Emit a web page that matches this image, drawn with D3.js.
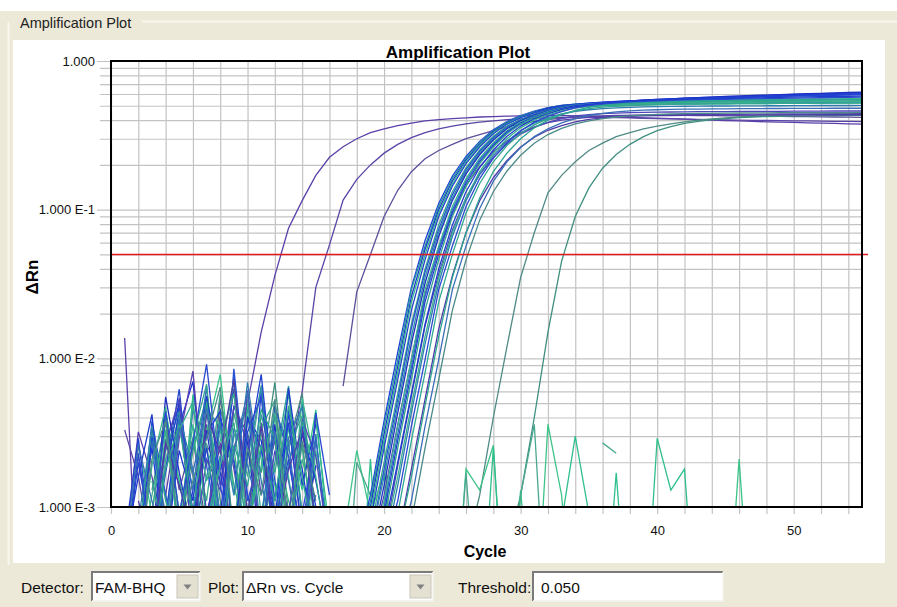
<!DOCTYPE html>
<html>
<head>
<meta charset="utf-8">
<script src="https://cdn.jsdelivr.net/npm/d3@7"></script>
<style>
  body { margin: 0; background: #ece9d8; }
  svg { display: block; }
</style>
</head>
<body>
<svg id="chart" width="897" height="607"></svg>
<script>

// ---- data ----
var cycles = [1,2,3,4,5,6,7,8,9,10,11,12,13,14,15,16,17,18,19,20,21,22,23,24,25,26,27,28,29,30,
              31,32,33,34,35,36,37,38,39,40,41,42,43,44,45,46,47,48,49,50,51,52,53,54,55];
var xTickLabels = [0, 10, 20, 30, 40, 50];
var yTickValues = [1, 0.1, 0.01, 0.001];
var yTickLabels = ["1.000", "1.000 E-1", "1.000 E-2", "1.000 E-3"];
var threshold = 0.050;
var detectorName = "FAM-BHQ";
var plotName = "\u0394Rn vs. Cycle";

// one colour per well (early wells A-E, three no-template wells, then the main group)
var wellColors = [
  "#5b3fa8","#5a44a6","#5c4f9c","#4f8a86","#3f8f80","#3cc488","#2fbf8a","#4aa890",
  "#1f3fd8","#2a9d9a","#1a36d0","#35b88c","#2244cc","#3aa88a","#2550d8","#2f8fa6",
  "#1c2fc0","#5a3fb0","#3ab890","#2e6fc0","#2040d0","#34a58c","#4d46b8","#1e3ccc",
  "#3bb08c","#2d7db0","#2a48d0","#33a890","#4f3aa8","#2ca490","#3a6fb8","#4a8a88"
];

// delta Rn, cycles 1-16 (baseline noise); 0 = not plotted
var baselineNoise = [
  [.0137,.0002,.0031,.0012,.0045,.0008,.0026,.0018,0,0,0,0,0,0,0,0],
  [.0033,.0016,.0005,.0028,.0048,.0009,.0036,.0014,.0062,.0007,.0025,.0009,0,0,0,0],
  [0,.0022,.0006,.0041,.0013,.0029,.0007,.0053,.0018,.0005,.0037,.0011,.0044,.0006,.0019,0],
  [0,.0004,.0027,.0009,.0035,.0016,.0004,.0046,.0021,.0008,.0033,.0005,.0026,.0058,.0007,0],
  [0,0,.0013,.0038,.0006,.0024,.0051,.0011,.0004,.0031,.0017,.0069,.0009,.0027,.0005,0],
  [.0004,.0026,.0009,.0044,.0015,.0005,.0032,.0078,.0012,.0029,.0006,.0041,.0016,.0004,.0024,.0006],
  [0,.0005,.0031,.0012,.0005,.0057,.0019,.0035,.0006,.0048,.0021,.0007,.0034,.0013,.0045,.0005],
  [0,0,.0004,.0021,.0039,.0008,.0027,.0005,.0043,.0016,.0066,.0009,.0025,.0041,.0008,0],
  [0,.0005,.003,.0008,.005,.0012,.0006,.004,.002,.0005,.006,.0015,.0005,.0035,.001,0],
  [0,0,.0006,.004,.0009,.0025,.0055,.0007,.003,.0045,.0006,.002,.0065,.0008,.0005,0],
  [0,.0007,.0025,.0005,.0035,.007,.0009,.0022,.0005,.004,.0028,.0006,.0042,.0018,.0005,0],
  [0,0,.0005,.0032,.0015,.0006,.0045,.0035,.0007,.0052,.0009,.003,.0011,.0006,.0038,.0007],
  [.0004,.002,.0006,.0018,.0062,.0008,.0025,.0006,.0075,.0012,.0005,.0048,.0022,.0006,.0012,0],
  [0,0,.0009,.0042,.0006,.0028,.0011,.0058,.0014,.0006,.0034,.0052,.0007,.0026,.0005,0],
  [0,.0005,.0038,.0012,.0005,.0046,.0019,.0006,.0085,.0011,.0024,.0007,.0045,.0009,.0029,.0005],
  [0,0,.0005,.0024,.0044,.0007,.0016,.0038,.0006,.0021,.0064,.0009,.0019,.005,.0006,0],
  [0,.0009,.0005,.0055,.0017,.0006,.0033,.0009,.0048,.0027,.0005,.0036,.0006,.0031,.0015,.0005],
  [.0005,.0032,.0016,.0005,.0029,.0082,.0008,.0027,.0005,.0061,.0012,.0028,.0008,.0006,.0041,0],
  [0,.0004,.0019,.0047,.0008,.0036,.0005,.0022,.0071,.0009,.0033,.0014,.0005,.0054,.0018,0],
  [0,0,.0028,.0007,.0039,.0013,.0065,.0005,.0034,.0019,.0008,.0044,.0027,.0005,.0031,.0004],
  [.0006,.0029,.0005,.0017,.0052,.0009,.0031,.0044,.0006,.0023,.0078,.0011,.0037,.0007,.0019,0],
  [0,.0006,.0035,.0011,.0006,.0029,.0067,.0008,.0025,.0005,.0042,.0017,.0058,.0009,.0005,0],
  [0,0,.0007,.0026,.0054,.0005,.0021,.0013,.0047,.0031,.0006,.0024,.0009,.0039,.0022,.0005],
  [.0005,.0016,.0042,.0005,.0024,.0011,.0056,.0017,.0006,.0039,.0025,.0008,.0063,.0014,.0036,0],
  [0,.0004,.0012,.0033,.0006,.0049,.0015,.0028,.0058,.0007,.0019,.0043,.0006,.0021,.0009,0],
  [0,.0008,.0034,.0007,.0041,.0018,.0005,.0036,.0012,.0069,.0015,.0005,.0029,.0047,.0007,0],
  [.0004,.0023,.0005,.0044,.0009,.0027,.0091,.0014,.0005,.0032,.0055,.0008,.0021,.0006,.0043,.0012],
  [0,0,.0015,.0006,.0033,.0051,.0008,.0019,.0037,.0006,.0026,.0011,.0048,.0016,.0005,0],
  [0,.0011,.0005,.0027,.0014,.0006,.0042,.0023,.0072,.0009,.0035,.0006,.0018,.0033,.0008,0],
  [0,0,.0005,.0018,.0036,.0009,.0051,.0005,.0026,.0014,.0045,.0029,.0005,.0038,.0016,.0004],
  [.0005,.0026,.0011,.0005,.0034,.0017,.0046,.0008,.0023,.0059,.0006,.0032,.0015,.0005,.0027,0],
  [0,.0004,.0021,.0038,.0007,.0015,.0029,.0064,.0006,.0025,.0012,.0053,.0007,.0028,.0011,0]
];

// first cycle of the amplification part of each well
var ampStart = [9,13,17,26,29,17,17,17,
                18,18,18,18,19,19,19,19,19,19,19,19,19,20,20,20,20,20,20,20,21,21,21,22];

// delta Rn from ampStart up to cycle 55
var ampValues = [
  [.0025,.005,.015,.036,.075,.115,.17,.225,.265,.3,.33,.35,.368,.382,.395,.403,.41,.415,.42,.423,.426,.428,.43,.43,.43,.428,.426,.424,.421,.418,.415,.412,.409,.406,.403,.4,.398,.395,.392,.39,.388,.386,.384,.382,.38,.378,.376],
  [.0018,.006,.03,.058,.116,.16,.2,.24,.275,.305,.33,.35,.365,.378,.388,.396,.403,.408,.412,.415,.417,.418,.418,.417,.416,.414,.412,.41,.408,.406,.404,.403,.402,.4,.399,.398,.397,.396,.395,.394,.393,.392,.391],
  [.0065,.028,.05,.09,.135,.18,.22,.25,.275,.3,.32,.34,.36,.378,.392,.404,.413,.42,.425,.428,.43,.431,.432,.432,.432,.431,.43,.429,.428,.427,.426,.425,.424,.423,.422,.421,.42,.419,.418],
  [.0005,.0012,.004,.012,.035,.07,.13,.17,.21,.25,.28,.31,.33,.35,.365,.378,.39,.4,.408,.415,.42,.425,.428,.431,.434,.436,.438,.44,.441,.442],
  [.0005,.0012,.004,.015,.045,.09,.14,.19,.235,.275,.31,.34,.362,.38,.393,.403,.41,.416,.42,.423,.425,.427,.428,.429,.43,.43,.431],
  [.0006,.0024,.0009,.0017,.0001,0,0,0,.0001,.0018,.0013,.0026,.0001,.0013,.0001,.0036,.0012,.0001,0,0,0,0,0,0,0,0,0,0,.0001,.0021,.0001],
  [0,.0001,.0021,.0001,0,0,0,0,0,0,.0001,.0025,.0001,0,0,.0001,.0008,.003,.0009,.0001,.0017,.0001,.0001,.0029,.0013,.0018,.0001],
  [.0001,.002,.0012,.0028,.0001,0,0,0,.0001,.0017,.0001,0,.0001,.0012,.0036,.0001,0,0,0,.0027,.0023],
  [.0005,.0012,.0038,.011,.03,.062,.11,.168,.228,.288,.345,.392,.43,.46,.486,.503,.513,.52,.528,.534,.538,.545,.548,.553,.556,.56,.566,.568,.572,.577,.58,.583,.587,.59,.592,.596,.598,.602],
  [.0005,.0011,.0035,.0098,.029,.057,.105,.162,.222,.282,.34,.388,.426,.456,.484,.502,.512,.515,.52,.522,.526,.528,.53,.532,.535,.536,.538,.54,.541,.543,.544,.546,.547,.548,.549,.55,.551,.552],
  [.0004,.001,.0031,.0088,.026,.054,.1,.156,.216,.276,.335,.384,.423,.453,.482,.5,.511,.52,.526,.533,.54,.546,.551,.556,.562,.566,.571,.576,.58,.584,.588,.592,.595,.599,.602,.605,.608,.612],
  [.0003,.0009,.0028,.008,.024,.05,.095,.15,.21,.27,.33,.38,.42,.45,.47,.485,.495,.5,.505,.508,.51,.512,.515,.516,.518,.52,.521,.522,.523,.525,.526,.527,.528,.529,.53,.531,.532,.533],
  [.0008,.0025,.0072,.021,.046,.09,.144,.204,.264,.324,.375,.416,.447,.477,.498,.509,.517,.524,.53,.536,.54,.545,.549,.553,.557,.561,.565,.568,.572,.575,.578,.58,.583,.585,.588,.59,.592],
  [.0007,.002,.0058,.017,.04,.079,.132,.192,.252,.312,.365,.405,.435,.46,.478,.49,.497,.5,.503,.506,.508,.51,.511,.512,.513,.514,.515,.516,.516,.517,.518,.518,.519,.52,.52,.521,.522],
  [.0006,.0018,.0053,.016,.038,.074,.126,.186,.246,.306,.36,.404,.438,.468,.492,.506,.515,.522,.53,.536,.542,.547,.552,.556,.561,.565,.569,.573,.577,.58,.584,.587,.59,.593,.596,.599,.601],
  [.0006,.0016,.0048,.014,.035,.07,.12,.18,.24,.3,.355,.4,.435,.465,.49,.505,.513,.518,.522,.526,.529,.532,.534,.536,.538,.54,.541,.542,.543,.544,.545,.546,.547,.548,.549,.55,.551],
  [.0005,.0014,.0043,.0125,.032,.066,.115,.174,.234,.294,.35,.396,.432,.462,.488,.504,.514,.523,.531,.538,.545,.551,.556,.562,.567,.572,.577,.581,.586,.59,.594,.598,.602,.606,.61,.614,.618],
  [.0005,.0012,.0036,.0098,.027,.054,.095,.145,.195,.245,.29,.33,.36,.385,.4,.41,.418,.424,.428,.43,.432,.434,.435,.436,.437,.437,.438,.438,.439,.439,.44,.44,.44,.441,.441,.441,.442],
  [.0005,.0011,.0035,.0098,.029,.057,.105,.162,.222,.282,.34,.388,.426,.456,.484,.502,.512,.518,.523,.527,.53,.533,.536,.539,.541,.543,.545,.547,.549,.55,.552,.553,.555,.556,.557,.558,.56],
  [.0004,.001,.0031,.0088,.026,.054,.1,.156,.216,.276,.335,.384,.423,.453,.478,.494,.503,.508,.512,.515,.517,.519,.52,.521,.522,.523,.524,.525,.526,.527,.528,.528,.529,.53,.53,.531,.532],
  [.0003,.0009,.0028,.008,.024,.05,.095,.15,.21,.27,.33,.38,.42,.45,.48,.5,.51,.52,.528,.535,.541,.547,.552,.557,.561,.565,.569,.573,.577,.58,.584,.587,.59,.593,.596,.598,.601],
  [.0008,.0025,.0072,.021,.046,.09,.144,.204,.264,.324,.375,.416,.447,.472,.49,.5,.507,.512,.516,.519,.522,.524,.526,.528,.53,.531,.532,.534,.535,.536,.537,.538,.539,.539,.54,.541],
  [.0006,.0019,.0056,.0165,.037,.073,.12,.172,.224,.277,.322,.358,.386,.41,.427,.436,.442,.446,.449,.451,.453,.454,.455,.456,.457,.457,.458,.458,.459,.459,.46,.46,.46,.461,.461,.461],
  [.0007,.002,.0058,.017,.04,.079,.132,.192,.252,.312,.365,.408,.441,.471,.494,.507,.516,.523,.529,.535,.54,.544,.548,.552,.555,.558,.561,.564,.566,.569,.571,.573,.575,.577,.579,.581],
  [.0006,.0016,.0048,.014,.035,.07,.12,.18,.24,.3,.355,.4,.435,.462,.482,.495,.503,.509,.513,.516,.519,.521,.523,.524,.525,.526,.527,.528,.529,.53,.53,.531,.532,.532,.533,.533],
  [.0005,.0014,.0043,.0125,.032,.066,.115,.174,.232,.288,.34,.382,.415,.44,.458,.47,.478,.484,.488,.491,.493,.495,.496,.497,.498,.498,.499,.499,.5,.5,.501,.501,.502,.502,.502,.503],
  [.0005,.0011,.0035,.0098,.029,.057,.105,.162,.222,.282,.34,.388,.426,.456,.484,.502,.512,.519,.525,.53,.535,.539,.543,.546,.549,.552,.554,.557,.559,.561,.563,.565,.566,.568,.569,.571],
  [.0003,.0009,.0028,.008,.024,.05,.095,.15,.21,.27,.325,.372,.41,.44,.462,.478,.489,.496,.501,.505,.508,.51,.512,.513,.514,.515,.516,.517,.517,.518,.518,.519,.519,.52,.52,.52],
  [.0006,.0018,.0053,.0158,.036,.07,.115,.164,.214,.264,.307,.342,.368,.39,.405,.414,.42,.424,.427,.429,.43,.431,.432,.432,.433,.433,.433,.434,.434,.434,.434,.435,.435,.435,.435],
  [.0006,.0016,.0048,.014,.035,.07,.12,.18,.24,.3,.355,.4,.435,.465,.488,.503,.513,.52,.525,.529,.533,.536,.538,.54,.542,.543,.544,.545,.546,.547,.548,.549,.549,.55,.55],
  [.0005,.0011,.0035,.0098,.029,.057,.102,.155,.21,.262,.31,.35,.384,.41,.43,.445,.455,.462,.467,.47,.472,.474,.475,.476,.477,.478,.478,.479,.479,.48,.48,.48,.481,.481,.481],
  [.0008,.0025,.0072,.021,.046,.085,.132,.182,.232,.28,.32,.352,.377,.396,.41,.42,.428,.433,.437,.44,.442,.444,.445,.446,.447,.448,.448,.449,.449,.45,.45,.45,.45,.451]
];

// ---- layout ----
var width = 897, height = 607;
var plotLeft = 111, plotRight = 862, plotTop = 61, plotBottom = 507;

var svg = d3.select('#chart');

var x = d3.scaleLinear().domain([0, 55]).range([plotLeft, plotRight]);
var y = d3.scaleLog().domain([0.001, 1]).range([plotBottom, plotTop]);

// window chrome
svg.append('rect').attr('width', width).attr('height', height).attr('fill', '#ece9d8');
svg.append('rect').attr('width', width).attr('height', 11).attr('fill', '#ffffff');
svg.append('line').attr('x1', 142).attr('x2', width).attr('y1', 21.5).attr('y2', 21.5)
   .attr('stroke', '#f8f6ee').attr('stroke-width', 2);
svg.append('line').attr('x1', 8.5).attr('x2', 8.5).attr('y1', 22).attr('y2', 565)
   .attr('stroke', '#f8f6ee').attr('stroke-width', 2);
svg.append('text').attr('x', 20).attr('y', 28)
   .style('font', '14.5px "Liberation Sans", Arial, sans-serif').attr('fill', '#222')
   .text('Amplification Plot');

svg.append('rect').attr('x', 13).attr('y', 40).attr('width', 872).attr('height', 523)
   .attr('fill', '#ffffff');

// grid: vertical every 2 cycles, extending below the frame as ticks
var xAxis = d3.axisBottom(x)
    .tickValues(d3.range(0, 55, 2))
    .tickSizeInner(-(plotBottom + 7 - plotTop))
    .tickSizeOuter(0)
    .tickPadding(12)
    .tickFormat(function(d) { return xTickLabels.indexOf(d) >= 0 ? d : ''; });

var gx = svg.append('g').attr('class', 'x axis')
    .attr('transform', 'translate(0,' + (plotBottom + 7) + ')')
    .call(xAxis);
gx.select('.domain').remove();
gx.selectAll('line').attr('stroke', '#c3c3c3').attr('stroke-width', 1.2);
gx.selectAll('text').style('font', '13px "Liberation Sans", Arial, sans-serif').attr('fill', '#111');

// grid: horizontal log lines (minor ones)
var yMinor = y.ticks().filter(function(v) { return yTickValues.indexOf(v) < 0; });
var gyMinor = svg.append('g').attr('class', 'y axis minor')
    .attr('transform', 'translate(' + (plotLeft - 11) + ',0)')
    .call(d3.axisLeft(y).tickValues(yMinor).tickSizeInner(-(plotRight - plotLeft + 11))
          .tickSizeOuter(0).tickFormat(''));
gyMinor.select('.domain').remove();
gyMinor.selectAll('line').attr('stroke', '#c3c3c3').attr('stroke-width', 1.2);

// major decades with labels
var gyMajor = svg.append('g').attr('class', 'y axis major')
    .attr('transform', 'translate(' + (plotLeft - 14) + ',0)')
    .call(d3.axisLeft(y).tickValues(yTickValues).tickSizeInner(-(plotRight - plotLeft + 14))
          .tickSizeOuter(0).tickPadding(2)
          .tickFormat(function(d) { return yTickLabels[yTickValues.indexOf(d)]; }));
gyMajor.select('.domain').remove();
gyMajor.selectAll('line').attr('stroke', '#c3c3c3').attr('stroke-width', 1.2);
gyMajor.selectAll('text').style('font', '13px "Liberation Sans", Arial, sans-serif').attr('fill', '#111');

// curves
svg.append('clipPath').attr('id', 'plotClip')
   .append('rect').attr('x', plotLeft).attr('y', plotTop)
   .attr('width', plotRight - plotLeft).attr('height', plotBottom - plotTop);

var wells = wellColors.map(function(color, w) {
  var points = cycles.map(function(c) {
    var v = c < ampStart[w] ? baselineNoise[w][c - 1] : ampValues[w][c - ampStart[w]];
    return { cycle: c, dRn: v };
  });
  return { color: color, points: points };
});

var line = d3.line()
    .defined(function(d) { return d.dRn > 0; })
    .x(function(d) { return x(d.cycle); })
    .y(function(d) { return y(d.dRn); });

var curveGroup = svg.append('g').attr('clip-path', 'url(#plotClip)');
curveGroup.selectAll('path.well')
    .data(wells)
  .enter().append('path')
    .attr('class', 'well')
    .attr('fill', 'none')
    .attr('stroke', function(d) { return d.color; })
    .attr('stroke-width', 1.3)
    .attr('d', function(d) { return line(d.points); });

// threshold
svg.append('line')
   .attr('x1', x(0)).attr('x2', plotRight + 6)
   .attr('y1', y(threshold)).attr('y2', y(threshold))
   .attr('stroke', '#e3191c').attr('stroke-width', 1.5);

// frame
svg.append('rect').attr('x', plotLeft).attr('y', plotTop)
   .attr('width', plotRight - plotLeft).attr('height', plotBottom - plotTop)
   .attr('fill', 'none').attr('stroke', '#000').attr('stroke-width', 2);

// titles
svg.append('text').attr('x', 458).attr('y', 58).attr('text-anchor', 'middle')
   .style('font', 'bold 17px "Liberation Sans", Arial, sans-serif')
   .text('Amplification Plot');
svg.append('text').attr('x', 485).attr('y', 557).attr('text-anchor', 'middle')
   .style('font', 'bold 16px "Liberation Sans", Arial, sans-serif')
   .text('Cycle');
svg.append('text').attr('transform', 'translate(38,277) rotate(-90)').attr('text-anchor', 'middle')
   .style('font', 'bold 17px "Liberation Sans", Arial, sans-serif')
   .text('\u0394Rn');

// bottom controls
var controls = svg.append('g').attr('class', 'controls');
var ctrlFont = '15.5px "Liberation Sans", Arial, sans-serif';

function sunkenBox(x0, y0, w, h) {
  controls.append('rect').attr('x', x0).attr('y', y0).attr('width', w).attr('height', h).attr('fill', '#fff');
  controls.append('path').attr('d', 'M' + x0 + ',' + (y0 + h) + 'V' + y0 + 'H' + (x0 + w))
    .attr('fill', 'none').attr('stroke', '#7b7b7b').attr('stroke-width', 2);
  controls.append('path').attr('d', 'M' + x0 + ',' + (y0 + h) + 'H' + (x0 + w) + 'V' + y0)
    .attr('fill', 'none').attr('stroke', '#f4f3ee').attr('stroke-width', 1.5);
}
function dropButton(x0, y0, w, h) {
  controls.append('rect').attr('x', x0).attr('y', y0).attr('width', w).attr('height', h)
    .attr('fill', '#e4e1d3').attr('stroke', '#c9c6b6');
  var cx = x0 + w / 2, cy = y0 + h / 2;
  controls.append('path').attr('d', 'M' + (cx - 4) + ',' + (cy - 2) + 'H' + (cx + 4) + 'L' + cx + ',' + (cy + 3) + 'Z')
    .attr('fill', '#808080');
}
function ctrlText(x0, txt) {
  controls.append('text').attr('x', x0).attr('y', 593).style('font', ctrlFont).attr('fill', '#111').text(txt);
}

ctrlText(21, 'Detector:');
sunkenBox(92, 572, 108, 29);
dropButton(177, 575, 21, 23);
ctrlText(95, detectorName);

ctrlText(208, 'Plot:');
sunkenBox(243, 572, 190, 29);
dropButton(410, 575, 21, 23);
ctrlText(246, plotName);

ctrlText(458, 'Threshold:');
sunkenBox(533, 572, 190, 29);
ctrlText(541, d3.format('.3f')(threshold));

</script>
</body>
</html>
